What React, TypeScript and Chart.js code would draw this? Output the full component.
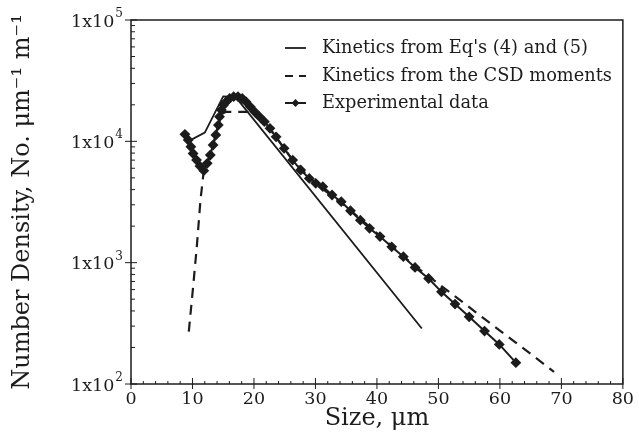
import React, { useEffect, useRef } from "react";
import { Chart, registerables } from "chart.js";

Chart.register(...registerables);

// ---- data ----
const expSize = [8.77, 9.3, 9.74, 10.1, 10.66, 11.2, 11.84, 12.4, 12.9, 13.35, 13.8, 14.2, 14.4, 14.7, 15.07, 15.5, 16.04, 16.7, 17.4, 18.1, 18.7, 19.4, 20.1, 20.9, 21.7, 22.6, 23.6, 24.9, 26.3, 27.6, 29.0, 30.05, 31.2, 32.7, 34.2, 35.7, 37.3, 38.8, 40.5, 42.4, 44.3, 46.2, 48.4, 50.5, 52.7, 55.0, 57.5, 59.9, 62.6];
const expDensity = [11430, 10260, 9020, 7940, 7010, 6250, 5730, 6590, 7710, 9330, 11270, 13610, 15960, 18110, 19910, 21230, 22590, 23330, 23330, 22590, 21230, 19280, 17540, 15960, 14520, 12790, 10900, 8750, 7010, 5800, 4950, 4510, 4230, 3610, 3180, 2680, 2240, 1920, 1640, 1350, 1120, 914, 741, 575, 456, 358, 273, 212, 150];

const eqSize = [9.3, 12.0, 15.0, 17.0, 47.3];
const eqDensity = [10000, 11800, 23500, 23200, 287];

const csdSize = [9.4, 10.1, 10.7, 11.3, 11.8, 12.4, 13.35, 14.2, 14.9, 15.5, 19.0, 21.0, 23.3, 26.3, 30.0, 35.0, 40.0, 45.5, 50.0, 55.0, 60.0, 65.0, 68.8];
const csdDensity = [270, 630, 1350, 3280, 5500, 6600, 9300, 13600, 17000, 17500, 17500, 16000, 11300, 7000, 4500, 2900, 1750, 1000, 670, 430, 275, 177, 126];

const seriesLabels = ["Kinetics from Eq's (4) and (5)", "Kinetics from the CSD moments", "Experimental data"];
const xTickValues = [0, 10, 20, 30, 40, 50, 60, 70, 80];
const yTickValues = [100, 1000, 10000, 100000];
const yTickBase = ["1x10", "1x10", "1x10", "1x10"];
const yTickExp = ["2", "3", "4", "5"];
const xTitle = "Size, \u03bcm";
const yTitle = "Number Density, No. \u03bcm\u207b\u00b9 m\u207b\u00b9";

const FONT = "'DejaVu Serif', 'Liberation Serif', serif";
const INK = "#1c1c1c";

const decorPlugin = {
  id: "decor",
  afterDraw(chart: any) {
    const ctx = chart.ctx;
    const { left, right, top, bottom } = chart.chartArea;
    const xs = chart.scales.x;
    const ys = chart.scales.y;
    ctx.save();
    ctx.strokeStyle = INK;
    ctx.lineWidth = 1.5;
    ctx.strokeRect(left, top, right - left, bottom - top);
    ctx.lineWidth = 1;
    // y ticks
    for (let d = 2; d <= 5; d++) {
      for (let k = 1; k <= 9; k++) {
        const v = k * Math.pow(10, d);
        if (v > 100000) break;
        const py = ys.getPixelForValue(v);
        ctx.beginPath();
        if (k === 1) {
          ctx.moveTo(left - 6, py);
          ctx.lineTo(left + 6, py);
        } else {
          ctx.moveTo(left, py);
          ctx.lineTo(left + 4, py);
        }
        ctx.stroke();
      }
    }
    // x ticks
    for (let v = 0; v <= 80; v += 2) {
      const px = xs.getPixelForValue(v);
      ctx.beginPath();
      if (v % 10 === 0) {
        ctx.moveTo(px, bottom + 5);
        ctx.lineTo(px, bottom - 6);
      } else {
        ctx.moveTo(px, bottom);
        ctx.lineTo(px, bottom - 3);
      }
      ctx.stroke();
    }
    // y tick labels with superscripts
    ctx.fillStyle = INK;
    ctx.textBaseline = "middle";
    ctx.textAlign = "left";
    yTickValues.forEach((v, i) => {
      const py = ys.getPixelForValue(v);
      ctx.font = `17.5px ${FONT}`;
      const wb = ctx.measureText(yTickBase[i]).width;
      ctx.font = `12px ${FONT}`;
      const we = ctx.measureText(yTickExp[i]).width;
      const xEnd = left - 8;
      const x0 = xEnd - wb - we - 1;
      ctx.font = `17.5px ${FONT}`;
      ctx.fillText(yTickBase[i], x0, py + 2);
      ctx.font = `12px ${FONT}`;
      ctx.fillText(yTickExp[i], x0 + wb + 1, py - 6);
    });
    // legend
    const rowY = [48, 76, 103];
    const lx0 = 285, lx1 = 306, tx = 322;
    chart.data.datasets.forEach((ds: any, i: number) => {
      const y = rowY[i];
      ctx.strokeStyle = INK;
      ctx.lineWidth = ds.borderWidth;
      ctx.setLineDash(i === 1 ? [8, 6] : []);
      ctx.beginPath();
      ctx.moveTo(lx0, y);
      ctx.lineTo(lx1, y);
      ctx.stroke();
      ctx.setLineDash([]);
      if (i === 2) {
        const cx = (lx0 + lx1) / 2;
        ctx.beginPath();
        ctx.moveTo(cx, y - 4);
        ctx.lineTo(cx + 4, y);
        ctx.lineTo(cx, y + 4);
        ctx.lineTo(cx - 4, y);
        ctx.closePath();
        ctx.fillStyle = INK;
        ctx.fill();
      }
      ctx.fillStyle = INK;
      ctx.font = `17.8px ${FONT}`;
      ctx.textAlign = "left";
      ctx.textBaseline = "middle";
      ctx.fillText(ds.label, tx, y);
    });
    ctx.restore();
  },
};

export default function App() {
  const ref = useRef<HTMLCanvasElement | null>(null);
  useEffect(() => {
    if (!ref.current) return;
    const toPts = (xs: number[], ys: number[]) => xs.map((x, i) => ({ x, y: ys[i] }));
    const chart = new Chart(ref.current, {
      type: "line",
      data: {
        datasets: [
          {
            label: seriesLabels[0],
            data: toPts(eqSize, eqDensity),
            borderColor: INK,
            borderWidth: 1.8,
            pointRadius: 0,
            fill: false,
            tension: 0,
          },
          {
            label: seriesLabels[1],
            data: toPts(csdSize, csdDensity),
            borderColor: INK,
            borderWidth: 2.2,
            borderDash: [10, 7],
            pointRadius: 0,
            fill: false,
            tension: 0,
          },
          {
            label: seriesLabels[2],
            data: toPts(expSize, expDensity),
            borderColor: INK,
            backgroundColor: INK,
            borderWidth: 2,
            pointStyle: "rectRot",
            pointRadius: 4,
            pointBackgroundColor: INK,
            pointBorderColor: INK,
            fill: false,
            tension: 0,
          },
        ],
      },
      options: {
        animation: false,
        responsive: false,
        parsing: false as any,
        layout: { padding: { top: 20, right: 13, left: 0, bottom: 0 } },
        plugins: { legend: { display: false }, tooltip: { enabled: false } },
        scales: {
          x: {
            type: "linear",
            min: 0,
            max: 80,
            afterBuildTicks: (s: any) => {
              s.ticks = xTickValues.map((v) => ({ value: v }));
            },
            afterFit: (s: any) => {
              s.height = 51;
            },
            grid: { display: false, drawTicks: false },
            border: { display: false },
            ticks: { color: INK, font: { family: FONT, size: 17.5 }, padding: 5, maxRotation: 0 },
            title: {
              display: true,
              text: xTitle,
              color: INK,
              font: { family: FONT, size: 24 },
              padding: { top: 0, bottom: 2 },
            },
          },
          y: {
            type: "logarithmic",
            min: 100,
            max: 100000,
            afterBuildTicks: (s: any) => {
              s.ticks = yTickValues.map((v) => ({ value: v }));
            },
            afterFit: (s: any) => {
              s.width = 131;
            },
            grid: { display: false, drawTicks: false },
            border: { display: false },
            ticks: { display: false },
            title: {
              display: true,
              text: yTitle,
              color: INK,
              font: { family: FONT, size: 24 },
              padding: { top: 8, bottom: 0 },
            },
          },
        },
      },
      plugins: [decorPlugin],
    });
    return () => chart.destroy();
  }, []);
  return (
    <div style={{ position: "absolute", left: 0, top: 0, width: 639, height: 435, background: "#fff" }}>
      <canvas ref={ref} width={639} height={435} />
    </div>
  );
}
